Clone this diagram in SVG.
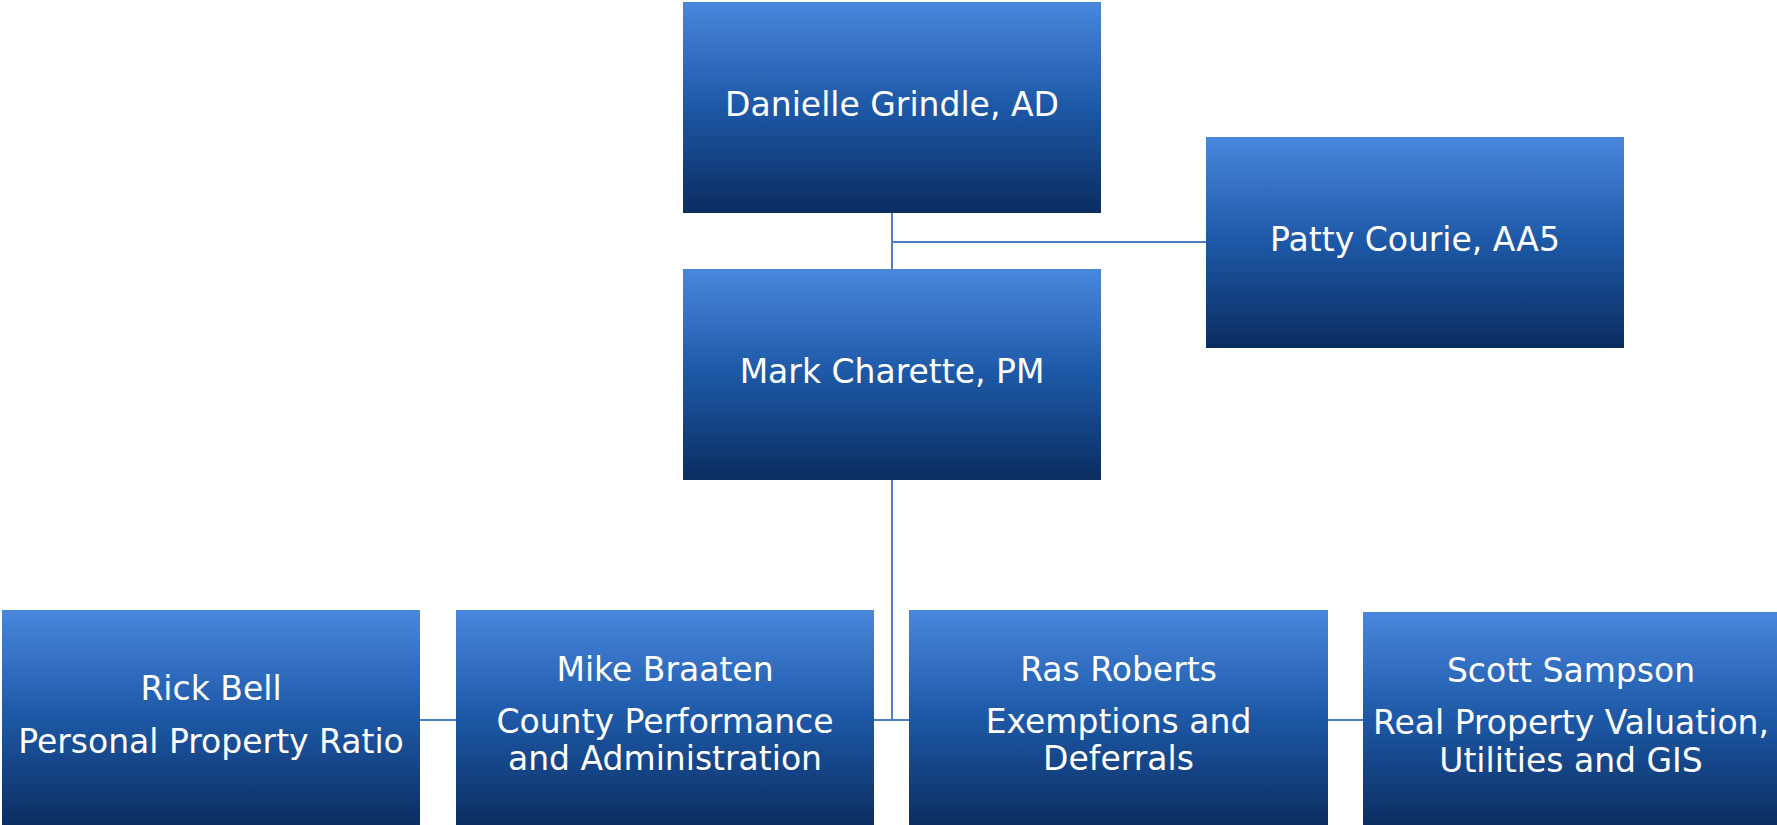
<svg xmlns="http://www.w3.org/2000/svg" width="1777" height="825" viewBox="0 0 1777 825">
<defs>
<linearGradient id="g" x1="0" y1="0" x2="0" y2="1">
<stop offset="0" stop-color="#4987dd"/>
<stop offset="0.5" stop-color="#1d58a6"/>
<stop offset="1" stop-color="#0b2d60"/>
</linearGradient>
</defs>
<style>
.box{fill:url(#g);}
.t{font-family:"DejaVu Sans",sans-serif;font-size:33px;fill:#ffffff;text-anchor:middle;}
.c{stroke:#4a7ec6;stroke-width:2;fill:none;}
</style>
<rect width="1777" height="825" fill="#ffffff"/>
<g id="connectors">
<line class="c" x1="892" y1="213" x2="892" y2="269"/>
<line class="c" x1="892" y1="242" x2="1206" y2="242"/>
<line class="c" x1="892" y1="480" x2="892" y2="721"/>
<line class="c" x1="874" y1="720" x2="909" y2="720"/>
<line class="c" x1="420" y1="720" x2="456" y2="720"/>
<line class="c" x1="1328" y1="720" x2="1363" y2="720"/>
</g>
<g id="danielle">
<rect class="box" x="683" y="2" width="418" height="211"/>
<text class="t" x="892" y="116">Danielle Grindle, AD</text>
</g>
<g id="patty">
<rect class="box" x="1206" y="137" width="418" height="211"/>
<text class="t" x="1415" y="251">Patty Courie, AA5</text>
</g>
<g id="mark">
<rect class="box" x="683" y="269" width="418" height="211"/>
<text class="t" x="892" y="383">Mark Charette, PM</text>
</g>
<g id="rick">
<rect class="box" x="2" y="610" width="418" height="216"/>
<text class="t" x="211" y="700">Rick Bell</text>
<text class="t" x="211" y="753">Personal Property Ratio</text>
</g>
<g id="mike">
<rect class="box" x="456" y="610" width="418" height="216"/>
<text class="t" x="665" y="681">Mike Braaten</text>
<text class="t" x="665" y="733">County Performance</text>
<text class="t" x="665" y="770">and Administration</text>
</g>
<g id="ras">
<rect class="box" x="909" y="610" width="419" height="216"/>
<text class="t" x="1118.5" y="681">Ras Roberts</text>
<text class="t" x="1118.5" y="733">Exemptions and</text>
<text class="t" x="1118.5" y="770">Deferrals</text>
</g>
<g id="scott">
<rect class="box" x="1363" y="612" width="418" height="214"/>
<text class="t" x="1571" y="682">Scott Sampson</text>
<text class="t" x="1571" y="734">Real Property Valuation,</text>
<text class="t" x="1571" y="772">Utilities and GIS</text>
</g>
</svg>
